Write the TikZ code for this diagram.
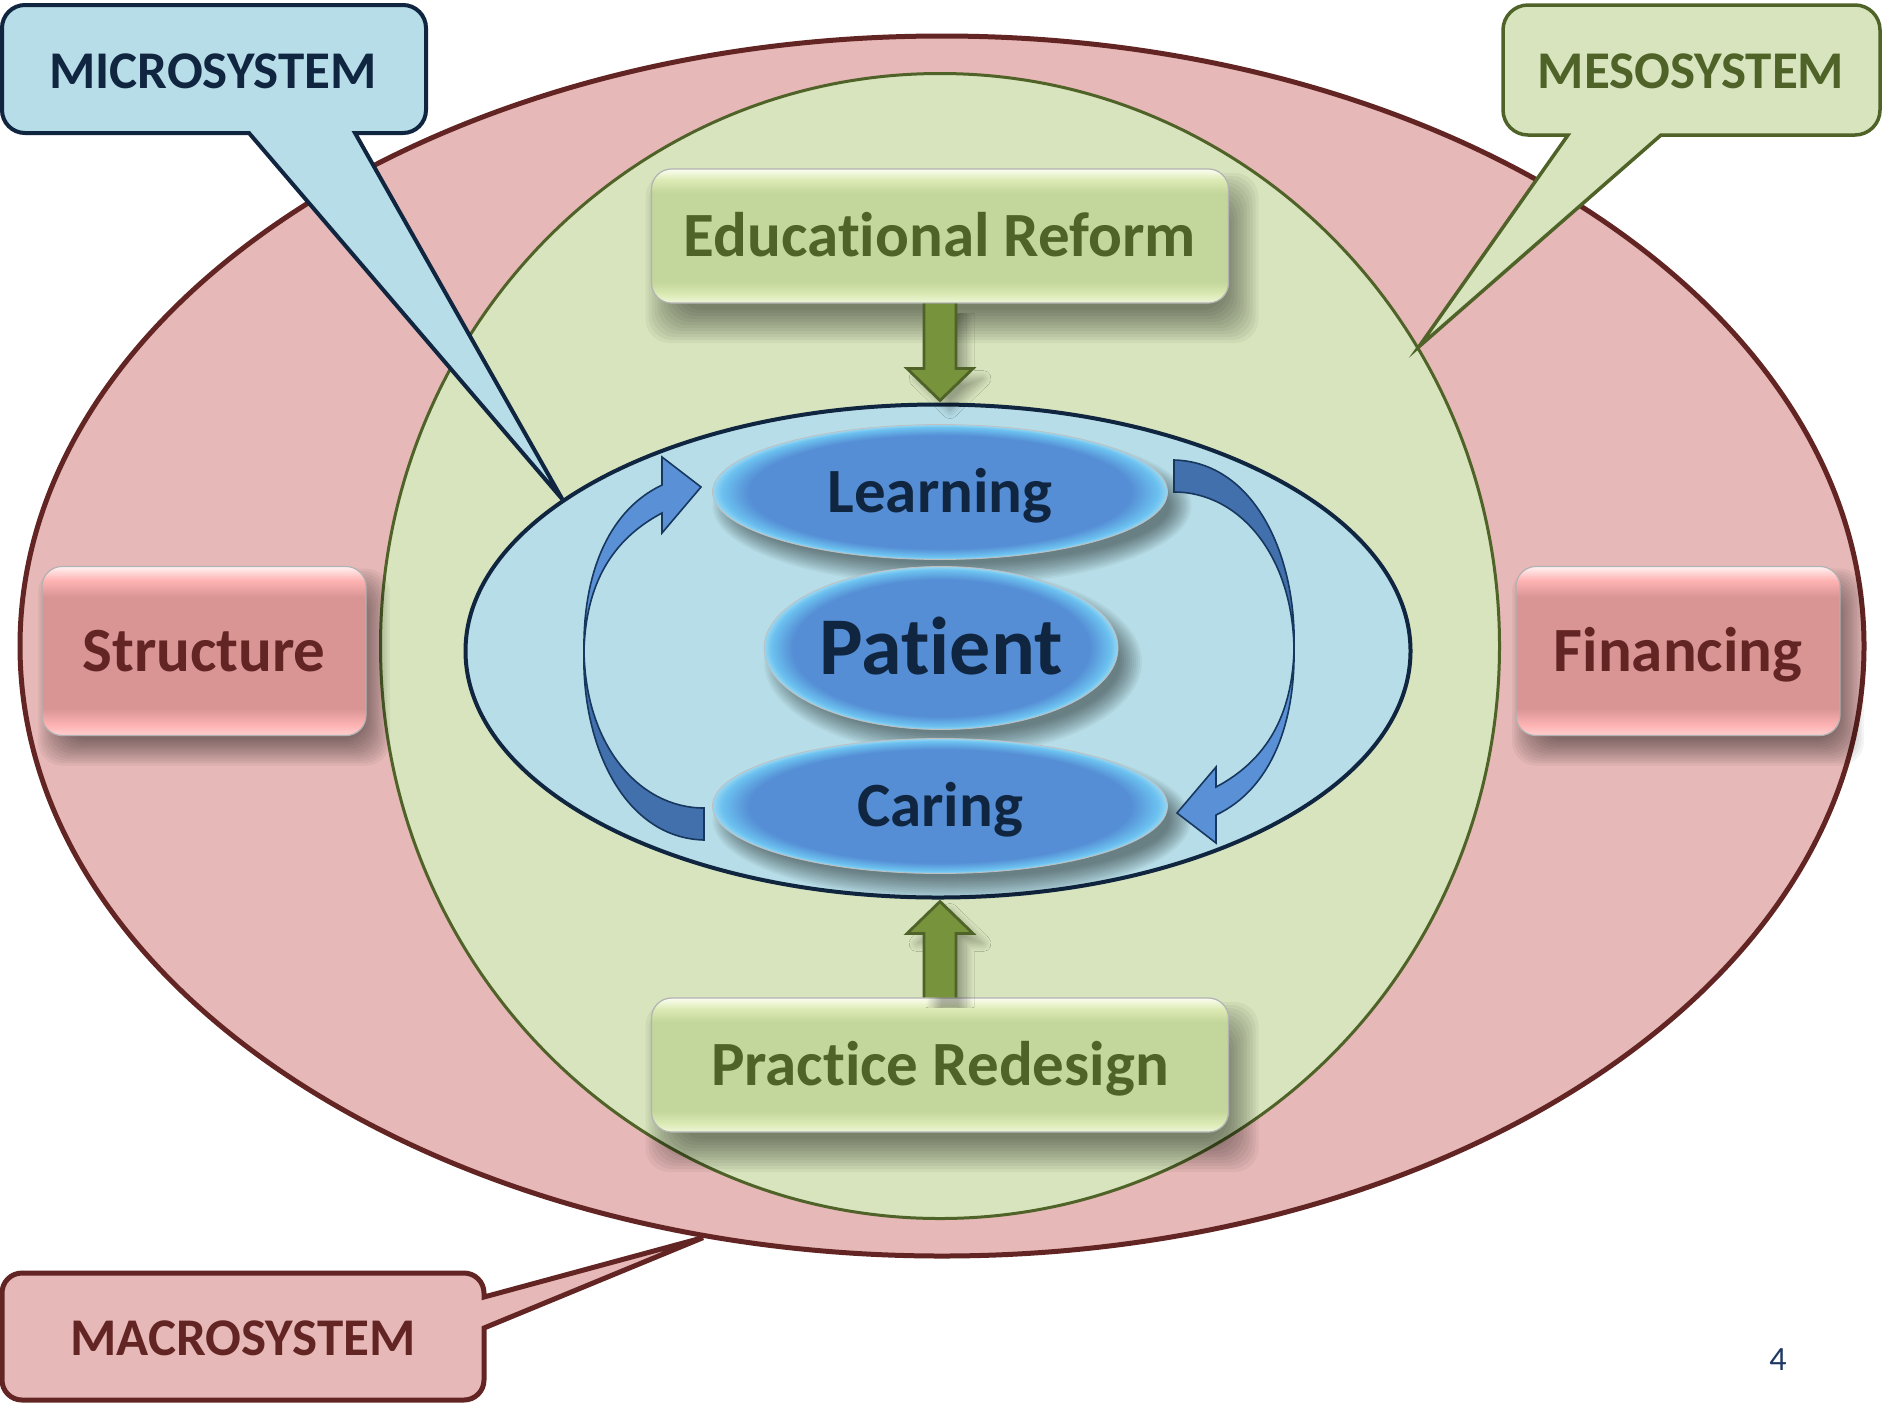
\documentclass[tikz,border=0pt]{standalone}
\usepackage{fontspec}
\setmainfont{Carlito}[Ligatures={NoCommon,NoContextual}]
\usetikzlibrary{shapes.geometric,calc,shadows.blur}

\definecolor{macroFill}{HTML}{E6B8B7}
\definecolor{macroLine}{HTML}{632523}
\definecolor{mesoFill}{HTML}{D7E4BD}
\definecolor{mesoLine}{HTML}{4F6228}
\definecolor{microFill}{HTML}{B7DEE8}
\definecolor{microLine}{HTML}{10253F}
\definecolor{gbTop}{HTML}{FBFEF0}
\definecolor{gbBand}{HTML}{DDEBB6}
\definecolor{gbMain}{HTML}{C3D69B}
\definecolor{gbEdge}{HTML}{EEF6DA}
\definecolor{pkTop}{HTML}{FFF2F2}
\definecolor{pkBand}{HTML}{FFB4B4}
\definecolor{pkMain}{HTML}{D99594}
\definecolor{pkEdge}{HTML}{FFD0D0}
\definecolor{blMain}{HTML}{558ED5}
\definecolor{blRim}{HTML}{6CC2F0}
\definecolor{blOut}{HTML}{9AD6F0}
\definecolor{arrDark}{HTML}{4170AC}
\definecolor{arrLight}{HTML}{5A90D6}
\definecolor{arrLine}{HTML}{17375E}
\definecolor{grArrow}{HTML}{77933C}
\definecolor{pageNum}{HTML}{1F3864}

% glossy bars: light rim at top and bottom, flat body
\pgfdeclareverticalshading{greenbar}{100bp}{color(0bp)=(gbEdge); color(25bp)=(gbEdge); color(28bp)=(gbBand); color(33bp)=(gbMain); color(66bp)=(gbMain); color(71bp)=(gbBand); color(75bp)=(gbTop); color(100bp)=(gbTop)}
\pgfdeclareverticalshading{pinkbar}{100bp}{color(0bp)=(pkEdge); color(25bp)=(pkEdge); color(28bp)=(pkBand); color(33bp)=(pkMain); color(66bp)=(pkMain); color(71bp)=(pkBand); color(75bp)=(pkTop); color(100bp)=(pkTop)}
\pgfdeclareradialshading{bluepill}{\pgfpoint{0bp}{0bp}}{color(0bp)=(blMain); color(21bp)=(blMain); color(24bp)=(blRim); color(25bp)=(blOut); color(50bp)=(blOut)}

% soft drop shadow of a rounded box: centre, half width, half height, x shift, y shift, spread
\newcommand\boxshade[6]{%
  \foreach \k in {0,...,11}{%
    \fill[black, opacity=0.045, rounded corners=12pt]
      ($#1+(#4-#2-#6+\k*#6/6,#5-#3-#6+\k*#6/6)$) rectangle
      ($#1+(#4+#2+#6-\k*#6/6,#5+#3+#6-\k*#6/6)$);
  }}
% soft drop shadow of an ellipse: centre, x radius, y radius, x shift, y shift, spread
\newcommand\ellshade[6]{%
  \foreach \k in {0,...,11}{%
    \fill[black, opacity=0.045] ($#1+(#4,#5)$)
      ellipse [x radius=#2+#6-\k*#6/6, y radius=#3+#6-\k*#6/6];
  }}

\tikzset{
  lbl/.style={font=\bfseries\fontsize{31.5}{36}\selectfont, text height=20.3pt, text depth=0pt},
  calltext/.style={font=\bfseries\fontsize{26.5}{30}\selectfont, text height=17pt, text depth=0pt},
  greenbox/.style={shade, shading=greenbar, draw=black!30, line width=0.6pt,
    rounded corners=10pt, minimum width=288.5pt, minimum height=67pt, inner sep=0pt,
    text=mesoLine, lbl},
  pinkbox/.style={shade, shading=pinkbar, draw=black!30, line width=0.6pt,
    rounded corners=10pt, minimum width=162pt, minimum height=84.5pt, inner sep=0pt,
    text=macroLine, lbl},
  pill/.style={ellipse, shade, shading=bluepill, draw=black!25, line width=0.4pt,
    inner sep=0pt, text=microLine},
  garrow/.style={fill=grArrow, draw=mesoLine, line width=1.4pt, line join=miter,
    blur shadow={shadow xshift=5pt, shadow yshift=-5pt, shadow blur radius=4pt,
      shadow blur steps=16, shadow opacity=30}},
  microcall/.style={fill=microFill, draw=microLine, line width=2pt, line join=miter},
  mesocall/.style={fill=mesoFill, draw=mesoLine, line width=1.75pt, line join=miter},
  macrocall/.style={fill=macroFill, draw=macroLine, line width=2.5pt, line join=miter},
  % twisted block arrow: tail at the upper left, head at the lower left
  twist/.pic={
    \fill[arrLight] (235,-190) .. controls (315,-188) and (358,-95) .. (355,0)
      .. controls (353,65) and (328,110) .. (277,137) -- (277,117) -- (238,163)
      -- (277,193) -- (277,165) .. controls (334,138) and (356,70) .. (355,0)
      .. controls (354,-95) and (300,-158) .. (235,-158) -- cycle;
    \begin{scope}
      \clip (150,-260) rectangle (420,0);
      \fill[arrDark] (235,-190) .. controls (315,-188) and (358,-95) .. (355,0)
        .. controls (353,65) and (328,110) .. (277,137) -- (277,117) -- (238,163)
        -- (277,193) -- (277,165) .. controls (334,138) and (356,70) .. (355,0)
        .. controls (354,-95) and (300,-158) .. (235,-158) -- cycle;
    \end{scope}
    \draw[arrLine, line width=0.8pt, line join=miter] (235,-190) .. controls (315,-188) and (358,-95) .. (355,0)
      .. controls (353,65) and (328,110) .. (277,137) -- (277,117) -- (238,163)
      -- (277,193) -- (277,165) .. controls (334,138) and (356,70) .. (355,0)
      .. controls (354,-95) and (300,-158) .. (235,-158) -- cycle;
  }
}

\begin{document}
\begin{tikzpicture}[x=0.5pt,y=-0.5pt]
\useasboundingbox (0,0) rectangle (1883,1404);
\fill[white] (0,0) rectangle (1883,1404);

% nested systems
\node[ellipse, draw=macroLine, line width=2.5pt, fill=macroFill, minimum width=922pt,
  minimum height=610pt, inner sep=0pt] (macro) at (942,646) {};
\node[ellipse, draw=mesoLine, line width=1.5pt, fill=mesoFill, minimum width=559.5pt,
  minimum height=572.5pt, inner sep=0pt] (meso) at (940,646) {};

\boxshade{(204,651)}{81pt}{42.25pt}{5pt}{-8pt}{7pt}
\boxshade{(1678,651)}{81pt}{42.25pt}{5pt}{-8pt}{7pt}
\node[pinkbox] (struct) at (204,651) {Structure};
\node[pinkbox] (fin) at (1678,651) {Financing};

\node[ellipse, draw=microLine, line width=2pt, fill=microFill, minimum width=472.5pt,
  minimum height=246.5pt, inner sep=0pt] (micro) at (938,651) {};

\boxshade{(940,236)}{144.25pt}{33.5pt}{6pt}{-11pt}{9pt}
\boxshade{(940,1065)}{144.25pt}{33.5pt}{6pt}{-11pt}{9pt}
\node[greenbox] (edu) at (940,236) {Educational Reform};
\node[greenbox] (prac) at (940,1065) {Practice Redesign};

% block arrows into the microsystem
\filldraw[garrow] let \p1=(edu.south), \p2=(micro.north) in
  (\x1-8pt,\y1) -- (\x1-8pt,\y2+17pt) -- (\x1-16.5pt,\y2+17pt) -- (\x1,\y2+1pt)
  -- (\x1+16.5pt,\y2+17pt) -- (\x1+8pt,\y2+17pt) -- (\x1+8pt,\y1);
\filldraw[garrow] let \p1=(prac.north), \p2=(micro.south) in
  (\x1-8pt,\y1) -- (\x1-8pt,\y2-17pt) -- (\x1-16.5pt,\y2-17pt) -- (\x1,\y2-1pt)
  -- (\x1+16.5pt,\y2-17pt) -- (\x1+8pt,\y2-17pt) -- (\x1+8pt,\y1);

% core of the microsystem
\ellshade{(940,492)}{113.75pt}{33.75pt}{6pt}{-7pt}{6pt}
\ellshade{(941,648)}{88.5pt}{40.75pt}{6pt}{-7pt}{6pt}
\ellshade{(940,806)}{113.75pt}{33.75pt}{6pt}{-7pt}{6pt}
\node[pill, minimum width=227.5pt, minimum height=67.5pt, lbl] (learn) at (940,492) {Learning};
\node[pill, minimum width=177pt, minimum height=81.5pt,
  font=\bfseries\fontsize{41}{48}\selectfont, text height=26.4pt, text depth=0pt] (patient) at (941,648) {Patient};
\node[pill, minimum width=227.5pt, minimum height=67.5pt, lbl] (caring) at (940,806) {Caring};

\pic at (939,650) {twist};
\pic[rotate=180] at (939,650) {twist};

% callouts
\draw[microcall] (249,133) -- (micro.158) -- (355,133) -- (403,133)
  arc[start angle=90,end angle=0,radius=23] -- (426,28)
  arc[start angle=0,end angle=-90,radius=23] -- (25,5)
  arc[start angle=-90,end angle=-180,radius=23] -- (2,110)
  arc[start angle=180,end angle=90,radius=23] -- cycle;
\node[calltext, text=microLine] (microtxt) at (213,71) {MICROSYSTEM};

\draw[mesocall] (1568,135) -- (meso.32) -- (1661,135) -- (1855,135)
  arc[start angle=90,end angle=0,radius=25] -- (1880,30)
  arc[start angle=0,end angle=-90,radius=25] -- (1528,5)
  arc[start angle=-90,end angle=-180,radius=25] -- (1503,110)
  arc[start angle=180,end angle=90,radius=25] -- cycle;
\node[calltext, text=mesoLine] (mesotxt) at (1691,71) {MESOSYSTEM};

\draw[macrocall] (484,1328) -- (macro.248) -- (484,1297) -- (484,1293)
  arc[start angle=0,end angle=-90,radius=20] -- (22,1273)
  arc[start angle=-90,end angle=-180,radius=20] -- (2,1380)
  arc[start angle=180,end angle=90,radius=20] -- (464,1400)
  arc[start angle=90,end angle=0,radius=20] -- cycle;
\node[calltext, text=macroLine] (macrotxt) at (243,1338) {MACROSYSTEM};

\node[font=\fontsize{17}{20}\selectfont, text=pageNum] (pnum) at (1778,1360) {4};
\end{tikzpicture}
\end{document}
